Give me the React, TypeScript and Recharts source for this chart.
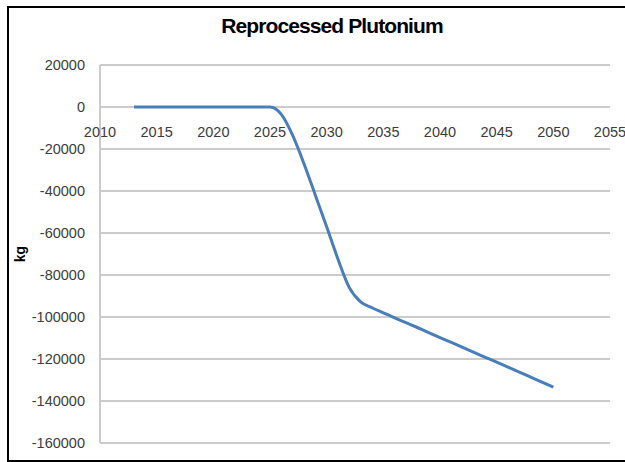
import { CartesianGrid, Line, LineChart, ReferenceDot, XAxis, YAxis } from "recharts";

// Valores leídos a ojo del gráfico original (kg, por año).
const YEARS = [
  2013, 2014, 2015, 2016, 2017, 2018, 2019, 2020, 2021, 2022, 2023, 2024, 2025,
  2026, 2027, 2028, 2029, 2030, 2031, 2032, 2033, 2034, 2035, 2036, 2037, 2038,
  2039, 2040, 2041, 2042, 2043, 2044, 2045, 2046, 2047, 2048, 2049, 2050,
];
const PLUTONIUM_KG = [
  0, 0, 0, 0, 0, 0, 0, 0, 0, 0, 0, 0, 0,
  -3500, -13500, -27000, -42000, -57000, -72500, -86000, -92800, -95600, -98000, -100400, -102700, -105000,
  -107400, -109800, -112100, -114500, -116800, -119200, -121500, -123900, -126200, -128600, -131000, -133400,
];
const X_TICKS = [2010, 2015, 2020, 2025, 2030, 2035, 2040, 2045, 2050, 2055];
const Y_TICKS = [20000, 0, -20000, -40000, -60000, -80000, -100000, -120000, -140000, -160000];

const FONT = "'Liberation Sans', Arial, sans-serif";
const TICK_COLOR = "#3c3c3c";

export default function App() {
  const data = YEARS.map((year, i) => ({ year, kg: PLUTONIUM_KG[i] }));

  return (
    <div style={{ fontFamily: FONT }}>
      <div
        style={{
          position: "absolute",
          left: 7,
          top: 6,
          width: 616,
          height: 452,
          borderLeft: "2px solid #000",
          borderTop: "2px solid #000",
          borderBottom: "2px solid #000",
        }}
      />
      <div
        style={{
          position: "absolute",
          left: 0,
          top: 15,
          width: 664,
          textAlign: "center",
          fontSize: 21,
          lineHeight: "22px",
          fontWeight: "bold",
          letterSpacing: -0.9,
          color: "#000",
        }}
      >
        Reprocessed Plutonium
      </div>
      <div style={{ position: "absolute", left: 0, top: 0 }}>
        <LineChart width={625} height={462} data={data} margin={{ top: 65, right: 15, bottom: 19, left: 0 }}>
          <CartesianGrid vertical={false} stroke="#cbcbcb" strokeWidth={2} />
          <XAxis dataKey="year" type="number" domain={[2010, 2055]} hide />
          <YAxis
            type="number"
            domain={[-160000, 20000]}
            ticks={Y_TICKS}
            interval={0}
            width={100}
            axisLine={{ stroke: "#cbcbcb", strokeWidth: 2 }}
            tickLine={false}
            tickSize={0}
            tickMargin={15}
            tick={{ fill: TICK_COLOR, fontSize: 14.5, fontFamily: FONT }}
            label={{
              value: "kg",
              angle: -90,
              position: "insideLeft",
              offset: 20,
              style: { textAnchor: "middle", fontWeight: "bold", fontSize: 14, fill: "#000", fontFamily: FONT },
            }}
          />
          {X_TICKS.map((yr) => (
            <ReferenceDot
              key={yr}
              x={yr}
              y={0}
              r={0}
              fill="none"
              stroke="none"
              label={{
                value: String(yr),
                position: "bottom",
                offset: 20,
                fill: TICK_COLOR,
                fontSize: 14.5,
                fontFamily: FONT,
              }}
            />
          ))}
          <Line
            type="monotone"
            dataKey="kg"
            stroke="#4a7ebb"
            strokeWidth={3}
            dot={false}
            isAnimationActive={false}
          />
        </LineChart>
      </div>
    </div>
  );
}
